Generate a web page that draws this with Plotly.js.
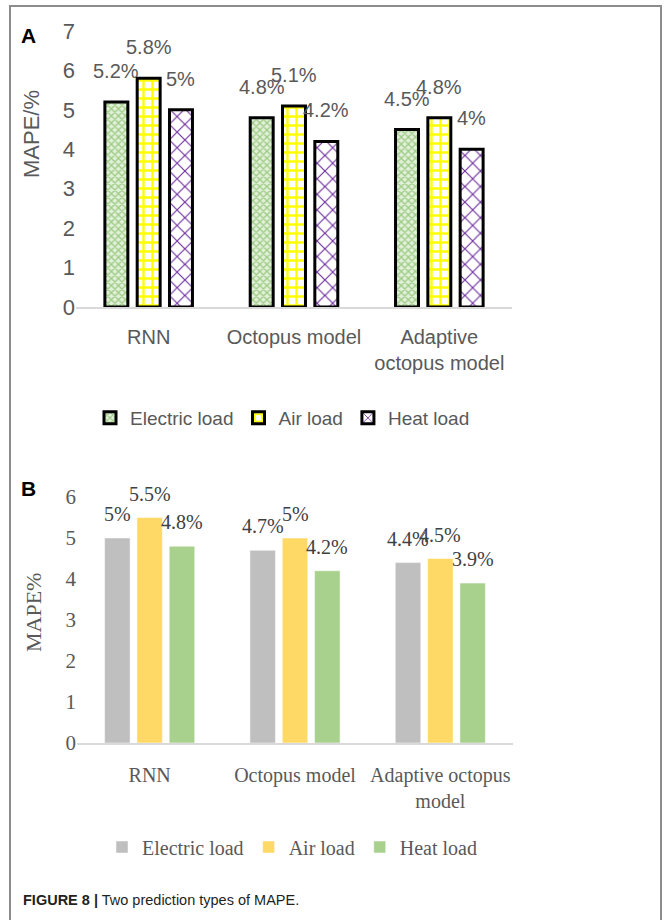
<!DOCTYPE html>
<html>
<head>
<meta charset="utf-8">
<script src="https://cdn.plot.ly/plotly-3.0.1.min.js"></script>
<style>html,body{margin:0;padding:0;background:#fff;}#chart{width:664px;height:920px;}</style>
</head>
<body>
<div id="chart"></div>
<script>
// ---- data ----
const categories = ['RNN', 'Octopus model', 'Adaptive octopus model'];
const tickLabelsA = ['RNN', 'Octopus model', 'Adaptive<br>octopus model'];
const tickLabelsB = ['RNN', 'Octopus model', 'Adaptive octopus<br>model'];
const seriesNames = ['Electric load', 'Air load', 'Heat load'];
const electricA = [5.2, 4.8, 4.5];
const airA = [5.8, 5.1, 4.8];
const heatA = [5.0, 4.2, 4.0];
const electricB = [5.0, 4.7, 4.4];
const airB = [5.5, 5.0, 4.5];
const heatB = [4.8, 4.2, 3.9];

// ---- geometry helpers ----
const W = 664, H = 920;
const px = v => v / W;
const py = v => 1 - v / H;

const fontA = '"Liberation Sans", Arial, sans-serif';
const fontB = '"Liberation Serif", "Times New Roman", serif';
const grayTxt = '#595959';

const slot = 0.2223;      // spacing between bars within a group (category units)
const wA = 0.158, wB = 0.1755;
const slotPx = 32.3;

const patternsA = [
  {shape: 'x', fgcolor: '#9ccb84', bgcolor: '#e2f0d9', size: 5, solidity: 0.45},
  {shape: '+', fgcolor: '#ffff00', bgcolor: '#ffffff', size: 9, solidity: 0.45},
  {shape: 'x', fgcolor: '#7030a0', bgcolor: '#ffffff', size: 11, solidity: 0.2}
];
const colorsB = ['#bfbfbf', '#ffd966', '#a9d18e'];

const dataA = [electricA, airA, heatA];
const dataB = [electricB, airB, heatB];

const traces = [];
dataA.forEach((vals, i) => {
  traces.push({
    type: 'bar', x: categories, y: vals, name: seriesNames[i],
    xaxis: 'x', yaxis: 'y', legend: 'legend',
    width: wA, offset: (i - 1) * slot - wA / 2,
    marker: {color: patternsA[i].bgcolor, pattern: patternsA[i], line: {color: '#000', width: 3}},
    hoverinfo: 'none'
  });
});
dataB.forEach((vals, i) => {
  traces.push({
    type: 'bar', x: categories, y: vals, name: seriesNames[i],
    xaxis: 'x2', yaxis: 'y2', legend: 'legend2',
    width: wB, offset: (i - 1) * slot - wB / 2,
    marker: {color: colorsB[i], line: {color: '#ffffff', width: 0.5}},
    hoverinfo: 'none'
  });
});

const annotations = [];
dataA.forEach((vals, i) => {
  vals.forEach((v, j) => {
    annotations.push({
      xref: 'x', yref: 'y', x: categories[j], y: v, text: v + '%',
      showarrow: false, xshift: (i - 1) * slotPx, yshift: 31, yanchor: 'middle',
      font: {family: fontA, size: 20, color: grayTxt}
    });
  });
});
dataB.forEach((vals, i) => {
  vals.forEach((v, j) => {
    annotations.push({
      xref: 'x2', yref: 'y2', x: categories[j], y: v, text: v + '%',
      showarrow: false, xshift: (i - 1) * slotPx, yshift: 24, yanchor: 'middle',
      font: {family: fontB, size: 20, color: '#404040'}
    });
  });
});
// panel labels, axis titles, caption
annotations.push(
  {xref: 'paper', yref: 'paper', x: px(19), y: py(35), xanchor: 'left', yanchor: 'middle', showarrow: false,
   text: '<b>A</b>', font: {family: 'Liberation Sans, Arial, sans-serif', size: 21, color: '#000'}},
  {xref: 'paper', yref: 'paper', x: px(19), y: py(488), xanchor: 'left', yanchor: 'middle', showarrow: false,
   text: '<b>B</b>', font: {family: 'Liberation Sans, Arial, sans-serif', size: 21, color: '#000'}},
  {xref: 'paper', yref: 'paper', x: px(32), y: py(134), xanchor: 'center', yanchor: 'middle', showarrow: false,
   textangle: -90, text: 'MAPE/%', font: {family: fontA, size: 22, color: grayTxt}},
  {xref: 'paper', yref: 'paper', x: px(33), y: py(613), xanchor: 'center', yanchor: 'middle', showarrow: false,
   textangle: -90, text: 'MAPE%', font: {family: fontB, size: 22, color: grayTxt}},
  {xref: 'paper', yref: 'paper', x: px(21), y: py(900), xanchor: 'left', yanchor: 'middle', showarrow: false,
   text: '<b>FIGURE 8 |</b> Two prediction types of MAPE.', font: {family: 'Liberation Sans, Arial, sans-serif', size: 14.5, color: '#231f20'}}
);

const layout = {
  width: W, height: H,
  margin: {l: 0, r: 0, t: 0, b: 0},
  paper_bgcolor: '#fff', plot_bgcolor: '#fff',
  barmode: 'overlay',
  showlegend: true,
  xaxis: {
    domain: [px(76), px(512)], anchor: 'y', type: 'category', range: [-0.5, 2.5],
    tickvals: categories, ticktext: tickLabelsA, tickangle: 0,
    showline: true, linecolor: '#d9d9d9', linewidth: 2, showgrid: false, zeroline: false,
    ticks: '', ticklabelstandoff: 11,
    tickfont: {family: fontA, size: 20, color: grayTxt}
  },
  yaxis: {
    domain: [py(307), py(31)], anchor: 'x', range: [0, 7], dtick: 1,
    showline: false, showgrid: false, zeroline: false, ticks: '',
    tickfont: {family: fontA, size: 22, color: grayTxt}
  },
  xaxis2: {
    domain: [px(77), px(513)], anchor: 'y2', type: 'category', range: [-0.5, 2.5],
    tickvals: categories, ticktext: tickLabelsB, tickangle: 0,
    showline: true, linecolor: '#d9d9d9', linewidth: 2, showgrid: false, zeroline: false,
    ticks: '', ticklabelstandoff: 13,
    tickfont: {family: fontB, size: 20, color: grayTxt}
  },
  yaxis2: {
    domain: [py(743), py(497)], anchor: 'x2', range: [0, 6], dtick: 1,
    showline: false, showgrid: false, zeroline: false, ticks: '',
    tickfont: {family: fontB, size: 21, color: grayTxt}
  },
  legend: {
    orientation: 'h', x: px(90), xanchor: 'left', y: py(418), yanchor: 'middle',
    font: {family: fontA, size: 19, color: grayTxt}, itemwidth: 30, traceorder: 'normal',
    bgcolor: 'rgba(0,0,0,0)'
  },
  legend2: {
    orientation: 'h', x: px(102), xanchor: 'left', y: py(847), yanchor: 'middle',
    font: {family: fontB, size: 20, color: grayTxt}, itemwidth: 30, traceorder: 'normal',
    bgcolor: 'rgba(0,0,0,0)'
  },
  shapes: [
    {type: 'rect', xref: 'paper', yref: 'paper', x0: px(10), x1: px(661), y0: -0.05, y1: py(6),
     line: {color: '#8c8c8c', width: 2}, fillcolor: 'rgba(0,0,0,0)', layer: 'below'}
  ],
  annotations: annotations
};

Plotly.newPlot('chart', traces, layout, {staticPlot: true, displayModeBar: false});
</script>
</body>
</html>
